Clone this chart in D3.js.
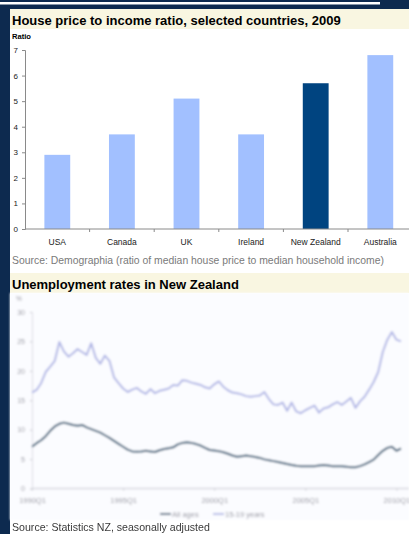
<!DOCTYPE html>
<html>
<head>
<meta charset="utf-8">
<script src="https://cdn.jsdelivr.net/npm/d3@7"></script>
<style>
  html, body { margin: 0; padding: 0; background: #0d2a4f; }
  svg { display: block; font-family: Arial, "Liberation Sans", sans-serif; }
</style>
</head>
<body>
<svg id="page" width="409" height="534"></svg>
<script>
// ---- House price to income ratio ----
const countries = ["USA", "Canada", "UK", "Ireland", "New Zealand", "Australia"];
const ratios = [2.9, 3.7, 5.1, 3.7, 5.7, 6.8];
const highlightCountry = "New Zealand";
const ratioTicks = [0, 1, 2, 3, 4, 5, 6, 7];

// ---- Unemployment rates, quarterly from 1990Q1 to 2010Q2 ----
const firstYear = 1990;
const allAges = [
  7.1, 7.7, 8.2, 8.9, 9.8, 10.55, 11.0, 11.2, 11.0, 10.8,
  10.65, 10.8, 10.4, 10.1, 9.8, 9.5, 9.05, 8.6, 8.1, 7.6,
  7.1, 6.6, 6.3, 6.25, 6.3, 6.4, 6.3, 6.2, 6.5, 6.7,
  6.85, 7.0, 7.5, 7.75, 7.85, 7.75, 7.55, 7.3, 6.9, 6.55,
  6.45, 6.35, 6.15, 5.9, 5.6, 5.4, 5.5, 5.6, 5.5, 5.35,
  5.2, 4.95, 4.8, 4.65, 4.5, 4.35, 4.15, 4.0, 3.85, 3.8,
  3.8, 3.8, 3.8, 3.9, 4.0, 3.9, 3.8, 3.8, 3.8, 3.7,
  3.6, 3.6, 3.8, 4.1, 4.5, 4.9, 5.7, 6.4, 6.9, 7.1,
  6.4, 6.8
];
const youth = [
  16.3, 16.75, 17.9, 19.8, 20.7, 21.7, 24.9, 23.3, 22.4, 23.0,
  23.7, 23.2, 22.7, 24.7, 22.2, 21.2, 22.6, 21.7, 18.9, 17.9,
  17.0, 16.4, 16.8, 17.1, 16.5, 16.1, 16.9, 16.2, 16.6, 16.8,
  17.0, 17.6, 17.5, 18.4, 18.3, 18.0, 17.8, 17.6, 17.2, 17.0,
  17.7, 18.2, 17.3, 16.7, 16.3, 16.2, 16.0, 15.7, 15.6, 15.7,
  15.8, 16.4, 15.2, 14.3, 14.2, 14.6, 13.2, 14.6, 13.1, 12.8,
  13.3, 13.7, 14.1, 12.9, 13.6, 13.8, 14.3, 14.7, 14.2, 14.8,
  15.4, 13.7, 14.8, 15.6, 16.8, 18.1, 19.8, 23.2, 25.3, 26.6,
  25.3, 25.0
];
const rateTicks = [0, 5, 10, 15, 20, 25, 30];
const yearTicks = [1990, 1995, 2000, 2005, 2010];
const yearLabels = ["1990Q1", "1995Q1", "2000Q1", "2005Q1", "2010Q1"];
const seriesNames = ["All ages", "15-19 years"];

const svg = d3.select("#page");
const W = 409, H = 534;

// page frame
svg.append("rect").attr("width", W).attr("height", H).attr("fill", "#0d2a4f");
svg.append("rect").attr("x", 0).attr("y", 2).attr("width", 380).attr("height", 2.5).attr("fill", "#ffffff");
svg.append("rect").attr("x", 10).attr("y", 9).attr("width", W - 10).attr("height", H - 9).attr("fill", "#ffffff");

// title bands
svg.append("rect").attr("x", 10).attr("y", 9).attr("width", W - 10).attr("height", 20).attr("fill", "#f9f6e1");
svg.append("text").attr("x", 12).attr("y", 25)
  .attr("font-size", 13).attr("font-weight", "bold").attr("fill", "#000")
  .text("House price to income ratio, selected countries, 2009");

svg.append("rect").attr("x", 10).attr("y", 273).attr("width", W - 10).attr("height", 20).attr("fill", "#f9f6e1");
svg.append("text").attr("x", 12).attr("y", 289)
  .attr("font-size", 13).attr("font-weight", "bold").attr("fill", "#000")
  .text("Unemployment rates in New Zealand");

// ---------- bar chart ----------
const bx = d3.scaleBand().domain(countries).range([25, 412.6]).paddingInner(0.6).paddingOuter(0.3);
const by = d3.scaleLinear().domain([0, 7]).range([229, 50]);

svg.append("text").attr("x", 12).attr("y", 39)
  .attr("font-size", 7.6).attr("font-weight", "bold").attr("fill", "#000").text("Ratio");

svg.append("g").selectAll("rect").data(countries).join("rect")
  .attr("x", d => bx(d))
  .attr("width", bx.bandwidth())
  .attr("y", (d, i) => by(ratios[i]))
  .attr("height", (d, i) => by(0) - by(ratios[i]))
  .attr("fill", d => d === highlightCountry ? "#004480" : "#a2c0ff");

const yAxis = svg.append("g").attr("transform", "translate(25,0)")
  .call(d3.axisLeft(by).tickValues(ratioTicks).tickFormat(d3.format("d")).tickSize(3).tickPadding(4));
yAxis.select(".domain").attr("stroke", "#8a8a8a");
yAxis.selectAll(".tick line").attr("stroke", "#8a8a8a");
yAxis.selectAll("text").attr("font-size", 8).attr("font-family", "Arial, 'Liberation Sans', sans-serif").attr("fill", "#222");

const xAxisG = svg.append("g").attr("transform", "translate(0,229)");
xAxisG.append("line").attr("x1", 25).attr("x2", W).attr("stroke", "#8a8a8a");
const step = bx.step();
xAxisG.selectAll("line.b").data(countries.slice(1)).join("line").attr("class", "b")
  .attr("x1", d => bx(d) + bx.bandwidth() / 2 - step / 2)
  .attr("x2", d => bx(d) + bx.bandwidth() / 2 - step / 2)
  .attr("y1", 0).attr("y2", 3).attr("stroke", "#8a8a8a");
xAxisG.selectAll("text").data(countries).join("text")
  .attr("x", d => bx(d) + bx.bandwidth() / 2)
  .attr("y", 16)
  .attr("text-anchor", "middle")
  .attr("font-size", 8.5).attr("fill", "#222")
  .text(d => d);

svg.append("text").attr("x", 12).attr("y", 264)
  .attr("font-size", 10.4).attr("fill", "#7a7a7a")
  .text("Source: Demographia (ratio of median house price to median household income)");

// ---------- unemployment line chart ----------
const defs = svg.append("defs");
defs.append("filter").attr("id", "soft").attr("x", "-5%").attr("y", "-5%").attr("width", "110%").attr("height", "110%")
  .append("feGaussianBlur").attr("stdDeviation", 0.8);

const lc = svg.append("g").attr("filter", "url(#soft)");
lc.append("rect").attr("x", 10).attr("y", 293).attr("width", W - 10).attr("height", 227).attr("fill", "#fbfcff");

const lx = d3.scaleLinear().domain([firstYear, firstYear + 20.25]).range([32, 401]);
const ly = d3.scaleLinear().domain([0, 30]).range([488.5, 312]);
const tOf = i => firstYear + i * 0.25;

const ly2 = lc.append("g").attr("transform", "translate(32,0)")
  .call(d3.axisLeft(ly).tickValues(rateTicks).tickFormat(d3.format("d")).tickSize(2).tickPadding(5));
ly2.select(".domain").attr("stroke", "#dcdce4");
ly2.selectAll(".tick line").attr("stroke", "#c8c8d0");
ly2.selectAll("text").attr("font-size", 7).attr("font-family", "Arial, 'Liberation Sans', sans-serif").attr("fill", "#9a9aa4");

lc.append("text").attr("x", 16).attr("y", 301).attr("font-size", 6.5).attr("fill", "#9a9aa4").text("%");

const lxa = lc.append("g").attr("transform", "translate(0,488.5)")
  .call(d3.axisBottom(lx).tickValues(yearTicks).tickFormat((d, i) => yearLabels[i]).tickSize(2).tickPadding(7));
lxa.select(".domain").attr("stroke", "#d8d8e0").attr("stroke-width", 1.5).attr("d", "M32,0H409");
lxa.selectAll(".tick line").attr("stroke", "#c8c8d0");
lxa.selectAll("text").attr("font-size", 7.5).attr("font-family", "Arial, 'Liberation Sans', sans-serif").attr("fill", "#9a9aa4");

const line = d3.line().x((d, i) => lx(tOf(i))).y(d => ly(d)).curve(d3.curveLinear);
lc.append("path").datum(youth).attr("d", line)
  .attr("fill", "none").attr("stroke", "#b3b8e6").attr("stroke-width", 2).attr("stroke-linejoin", "round");
lc.append("path").datum(allAges).attr("d", line)
  .attr("fill", "none").attr("stroke", "#41607a").attr("stroke-width", 2).attr("stroke-linejoin", "round");

// legend
const legendColors = ["#41607a", "#b3b8e6"];
const legendX = [160, 213];
const lg = lc.append("g");
seriesNames.forEach((name, i) => {
  lg.append("line").attr("x1", legendX[i]).attr("x2", legendX[i] + 11)
    .attr("y1", 514).attr("y2", 514).attr("stroke", legendColors[i]).attr("stroke-width", 1.8);
  lg.append("text").attr("x", legendX[i] + 12).attr("y", 516.5)
    .attr("font-size", 7.5).attr("fill", "#9a9aa4").text(name);
});

svg.append("text").attr("x", 12).attr("y", 531)
  .attr("font-size", 10.6).attr("fill", "#3a3a3a")
  .text("Source: Statistics NZ, seasonally adjusted");
</script>
</body>
</html>
